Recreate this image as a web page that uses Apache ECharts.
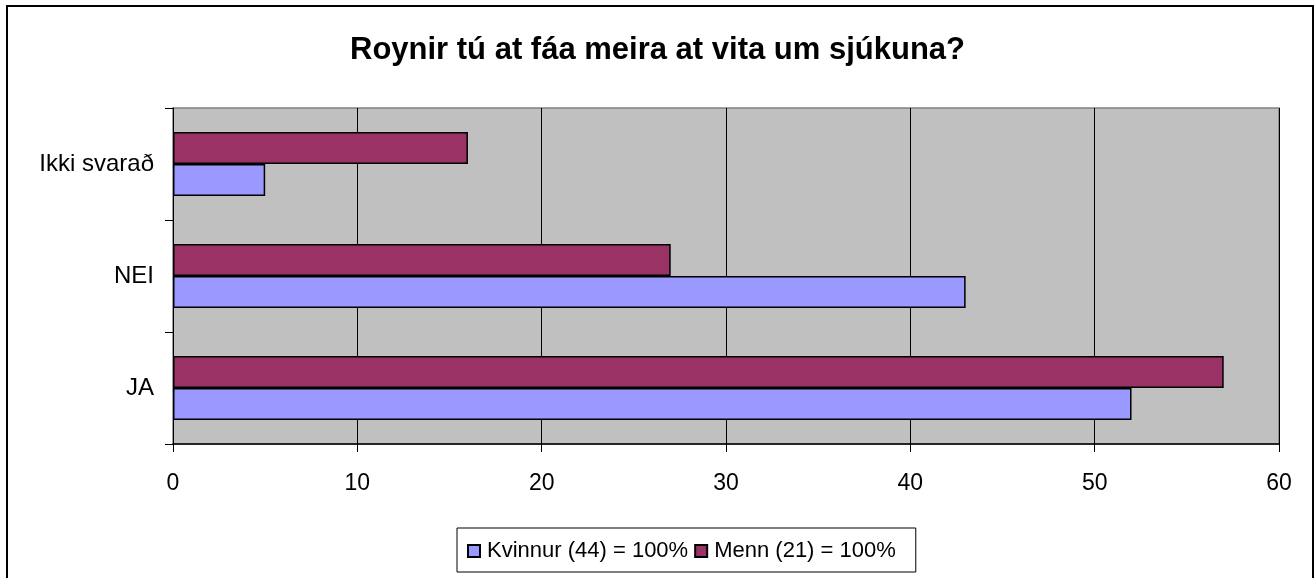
<!DOCTYPE html>
<html>
<head>
<meta charset="utf-8">
<script src="https://cdn.jsdelivr.net/npm/echarts@6/dist/echarts.min.js"></script>
<style>
html,body{margin:0;padding:0;background:#fff;}
#chart{width:1315px;height:578px;}
</style>
</head>
<body>
<div id="chart"></div>
<script>
const categories = ['JA', 'NEI', 'Ikki svarað'];
const kvinnur = [52, 43, 5];
const menn = [57, 27, 16];
const seriesNames = ['Kvinnur (44) = 100%', 'Menn (21) = 100%'];
const xTicks = [0, 10, 20, 30, 40, 50, 60];
const titleText = 'Roynir tú at fáa meira at vita um sjúkuna?';

const FONT = '"Liberation Sans", Arial, sans-serif';
const chart = echarts.init(document.getElementById('chart'), null, {renderer: 'canvas'});
chart.setOption({
  animation: false,
  backgroundColor: '#fff',
  title: {
    text: titleText,
    left: 'center',
    top: 30,
    textStyle: {fontFamily: FONT, fontSize: 31, fontWeight: 'bold', color: '#000'}
  },
  graphic: [{
    type: 'rect',
    shape: {x: 7, y: 6, width: 1306, height: 590},
    style: {fill: 'none', stroke: '#000', lineWidth: 2},
    silent: true, z: 100
  }],
  legend: {
    data: seriesNames,
    left: 457,
    top: 528,
    orient: 'horizontal',
    backgroundColor: '#fff',
    borderColor: '#000',
    borderWidth: 1,
    borderRadius: 0,
    padding: [12, 20, 10, 10],
    itemGap: 6,
    itemWidth: 12,
    itemHeight: 12,
    icon: 'rect',
    textStyle: {fontFamily: FONT, fontSize: 22, color: '#000', padding: [0, 0, 0, 2]}
  },
  grid: {
    left: 173, right: 36, top: 108, bottom: 134,
    show: true, backgroundColor: '#C0C0C0', borderColor: '#808080', borderWidth: 1.5,
    containLabel: false
  },
  xAxis: {
    type: 'value',
    min: xTicks[0], max: xTicks[xTicks.length - 1], interval: 10,
    axisLine: {show: true, lineStyle: {color: '#000', width: 1.5}},
    axisTick: {show: true, length: 8, lineStyle: {color: '#000'}},
    axisLabel: {fontFamily: FONT, fontSize: 23, color: '#000', margin: 28},
    splitLine: {show: true, lineStyle: {color: '#000', width: 1}}
  },
  yAxis: {
    type: 'category',
    data: categories,
    axisLine: {show: true, lineStyle: {color: '#000', width: 1}},
    axisTick: {show: true, length: 8, lineStyle: {color: '#000'}},
    axisLabel: {fontFamily: FONT, fontSize: 24, color: '#000', margin: 19},
    splitLine: {show: false}
  },
  series: [
    {
      name: seriesNames[1], type: 'bar', data: menn,
      barGap: '0%', barCategoryGap: '43%',
      itemStyle: {color: '#993366', borderColor: '#000', borderWidth: 1.5}
    },
    {
      name: seriesNames[0], type: 'bar', data: kvinnur,
      barGap: '0%', barCategoryGap: '43%',
      itemStyle: {color: '#9999FF', borderColor: '#000', borderWidth: 1.5}
    }
  ]
});
</script>
</body>
</html>
